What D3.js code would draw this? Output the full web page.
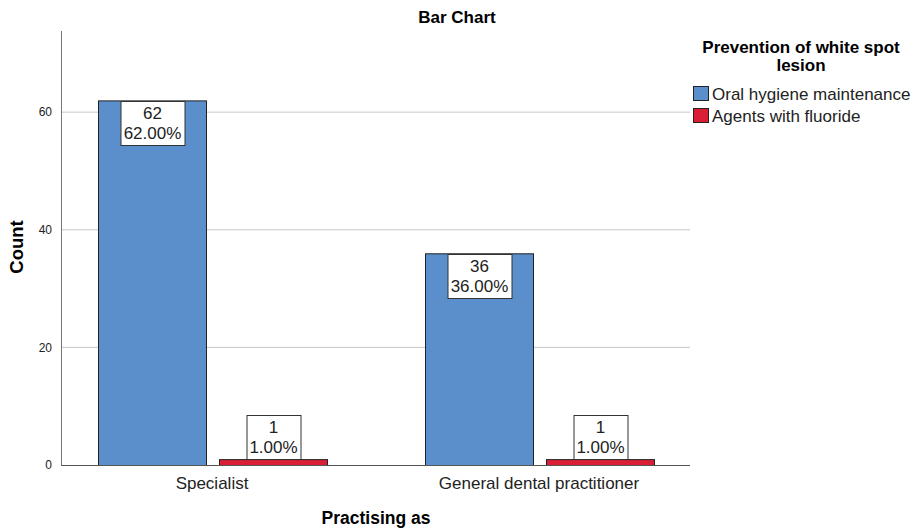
<!DOCTYPE html>
<html>
<head>
<meta charset="utf-8">
<script src="https://cdn.jsdelivr.net/npm/d3@7"></script>
<style>
	body { margin: 0; background: #fff; }
	text { font-family: Arial, "Liberation Sans", sans-serif; }
</style>
</head>
<body>
<svg id="graphic" width="912" height="529"></svg>
<script>
var categories = ['Specialist', 'General dental practitioner'];
var series = ['Oral hygiene maintenance', 'Agents with fluoride'];
var oralHygiene = [62, 36];
var fluoride = [1, 1];
var percents = [['62.00%', '1.00%'], ['36.00%', '1.00%']];
var yTicks = [0, 20, 40, 60];
var colours = ['#5b8fcb', '#d91e36'];

var svg = d3.select('#graphic');

var plot = { left: 61, right: 690, top: 31, bottom: 465 };

var y = d3.scaleLinear().domain([0, 73.8]).range([plot.bottom, plot.top]);
var x0 = d3.scaleBand().domain(categories).range([48.5, 702.5]);
var x1 = d3.scaleBand().domain(series).range([49.5, 278.5]).paddingInner(13 / 121);

var data = categories.map(function (c, i) {
	return {
		cat: c,
		values: [
			{ s: series[0], v: oralHygiene[i], p: percents[i][0] },
			{ s: series[1], v: fluoride[i], p: percents[i][1] }
		]
	};
});

// gridlines
svg.append('g')
	.selectAll('line')
	.data(yTicks.filter(function (d) { return d > 0; }))
	.join('line')
	.attr('x1', plot.left)
	.attr('x2', plot.right)
	.attr('y1', function (d) { return y(d); })
	.attr('y2', function (d) { return y(d); })
	.attr('stroke', '#c8c8c8')
	.attr('stroke-width', 1);

// y axis
var yAxis = d3.axisLeft(y).tickValues(yTicks).tickSize(0).tickPadding(9);
var yg = svg.append('g')
	.attr('transform', 'translate(' + plot.left + ',0)')
	.call(yAxis);
yg.select('.domain').attr('stroke', '#777').attr('d', 'M0.5,' + plot.top + 'V' + plot.bottom);
yg.selectAll('text').attr('font-size', 12).attr('fill', '#222');

// bars
var groups = svg.append('g')
	.selectAll('g')
	.data(data)
	.join('g')
	.attr('transform', function (d) { return 'translate(' + x0(d.cat) + ',0)'; });

groups.selectAll('rect')
	.data(function (d) { return d.values; })
	.join('rect')
	.attr('x', function (d) { return x1(d.s) + 0.5; })
	.attr('y', function (d) { return y(d.v) + 0.5; })
	.attr('width', x1.bandwidth())
	.attr('height', function (d) { return y(0) - y(d.v); })
	.attr('fill', function (d, i) { return colours[i]; })
	.attr('stroke', '#222')
	.attr('stroke-width', 1);

// x axis
var xg = svg.append('g')
	.attr('transform', 'translate(0,' + plot.bottom + ')')
	.call(d3.axisBottom(x0).tickSize(0).tickPadding(12));
xg.select('.domain').attr('stroke', '#555').attr('d', 'M' + plot.left + ',0.5H' + plot.right);
xg.selectAll('text').attr('font-size', 17).attr('fill', '#222');

// data labels
groups.each(function (g) {
	var grp = d3.select(this);
	g.values.forEach(function (d) {
		var cx = x1(d.s) + x1.bandwidth() / 2 + 0.5;
		var big = y(0) - y(d.v) > 60;
		var w = d.p.length > 5 ? 64 : 54;
		var h = 44;
		var top = big ? y(d.v) + 0.5 : y(d.v) - h - 0.5;
		grp.append('rect')
			.attr('x', Math.round(cx - w / 2) + 0.5)
			.attr('y', Math.round(top) + 0.5)
			.attr('width', w)
			.attr('height', h)
			.attr('fill', '#fff')
			.attr('stroke', '#333');
		var t = grp.append('text')
			.attr('text-anchor', 'middle')
			.attr('font-size', 17)
			.attr('fill', '#222');
		t.append('tspan').attr('x', cx).attr('y', top + 18).text(d.v);
		t.append('tspan').attr('x', cx).attr('y', top + 38).text(d.p);
	});
});

// titles
svg.append('text')
	.attr('x', 457).attr('y', 23)
	.attr('text-anchor', 'middle')
	.attr('font-size', 17).attr('font-weight', 'bold')
	.text('Bar Chart');

svg.append('text')
	.attr('transform', 'translate(23,247) rotate(-90)')
	.attr('text-anchor', 'middle')
	.attr('font-size', 18.5).attr('font-weight', 'bold')
	.text('Count');

svg.append('text')
	.attr('x', 376).attr('y', 524)
	.attr('text-anchor', 'middle')
	.attr('font-size', 17.5).attr('font-weight', 'bold')
	.text('Practising as');

// legend
var legend = svg.append('g');
legend.append('text')
	.attr('x', 801).attr('text-anchor', 'middle')
	.attr('font-size', 17).attr('font-weight', 'bold')
	.selectAll('tspan')
	.data(['Prevention of white spot', 'lesion'])
	.join('tspan')
	.attr('x', 801)
	.attr('y', function (d, i) { return 53 + i * 18; })
	.text(function (d) { return d; });

var items = legend.selectAll('g.item')
	.data(series)
	.join('g')
	.attr('class', 'item')
	.attr('transform', function (d, i) { return 'translate(693,' + (86 + i * 22) + ')'; });
items.append('rect')
	.attr('x', 0.5).attr('y', 0.5)
	.attr('width', 15).attr('height', 14)
	.attr('fill', function (d, i) { return colours[i]; })
	.attr('stroke', '#222');
items.append('text')
	.attr('x', 19).attr('y', 14)
	.attr('font-size', 17).attr('fill', '#222')
	.text(function (d) { return d; });
</script>
</body>
</html>
